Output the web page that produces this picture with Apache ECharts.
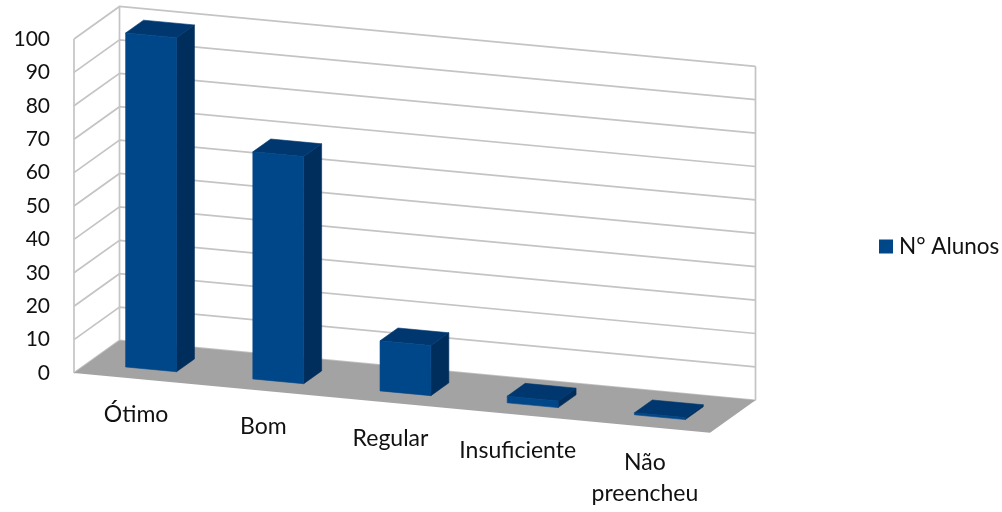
<!DOCTYPE html>
<html>
<head>
<meta charset="utf-8">
<style>
html, body { margin: 0; padding: 0; background: #fff; }
#chart { width: 1002px; height: 512px; }
</style>
<script src="https://cdn.jsdelivr.net/npm/echarts@6/dist/echarts.min.js"></script>
</head>
<body>
<div id="chart"></div>
<script>
var categories = ['Ótimo', 'Bom', 'Regular', 'Insuficiente', 'Não\npreencheu'];
var alunos = [100, 68, 15, 2, 0.6];
var ticks = [0, 10, 20, 30, 40, 50, 60, 70, 80, 90, 100];
var seriesName = 'N° Alunos';

// fake 3d: the grid is the front plane, depth goes from 0 (front) to 1 (back wall)
var gridLeft = 74;
var slope = 0.094;
var depthX = 45.5;
var depthY = 32.5;
var barFront = 0.296;
var barBack = 0.69;
var barWidth = 0.4;
var font = 'Lato';

function project(x, y, d) {
  return [x + d * depthX, y + (x - gridLeft) * slope - d * depthY];
}

function line(points, color) {
  return {
    type: 'polyline',
    shape: { points: points },
    style: { fill: null, stroke: color || '#c4c4c4', lineWidth: 1.7 }
  };
}

function face(points, color) {
  return {
    type: 'polygon',
    shape: { points: points },
    style: { fill: color, stroke: color, lineWidth: 0.6 }
  };
}

function renderWall(params, api) {
  var tick = api.value(0);
  var band = api.size([1, 0])[0];
  var left = api.coord([0, 0])[0] - band / 2;
  var right = api.coord([categories.length - 1, 0])[0] + band / 2;
  var y = api.coord([0, tick])[1];
  var children = [line([project(left, y, 0), project(left, y, 1), project(right, y, 1)])];
  if (tick === 0) {
    var top = api.coord([0, ticks[ticks.length - 1]])[1];
    children.push(line([project(left, y, 0), project(left, top, 0)]));
    children.push(line([project(left, y, 1), project(left, top, 1)]));
    children.push(line([project(right, y, 1), project(right, top, 1)]));
    children.push({
      type: 'polygon',
      z2: 5,
      shape: { points: [project(left, y, 0), project(left, y, 1), project(right, y, 1), project(right, y, 0)] },
      style: { fill: '#a3a3a3' }
    });
  }
  return { type: 'group', children: children };
}

function renderBar(params, api) {
  var cat = api.value(0);
  var c0 = api.coord([cat, 0]);
  var c1 = api.coord([cat, api.value(1)]);
  var w = api.size([1, 0])[0] * barWidth;
  var l = c0[0] - w / 2;
  var r = c0[0] + w / 2;
  var fl0 = project(l, c0[1], barFront), fr0 = project(r, c0[1], barFront);
  var fl1 = project(l, c1[1], barFront), fr1 = project(r, c1[1], barFront);
  var br0 = project(r, c0[1], barBack), br1 = project(r, c1[1], barBack);
  var bl1 = project(l, c1[1], barBack);
  return {
    type: 'group',
    children: [
      face([fr0, br0, br1, fr1], '#002e5c'),
      face([fl1, fr1, br1, bl1], '#00376f'),
      face([fl0, fr0, fr1, fl1], '#00478a')
    ]
  };
}

function renderLabel(params, api) {
  var c = api.coord([api.value(0), 0]);
  var p = project(c[0], c[1], 0);
  return {
    type: 'text',
    style: {
      text: categories[api.value(0)],
      x: p[0] - 1.5,
      y: p[1] + 20,
      align: 'center',
      verticalAlign: 'top',
      font: '23px ' + font,
      lineHeight: 31,
      fill: '#111'
    }
  };
}

var myChart = echarts.init(document.getElementById('chart'));
myChart.setOption({
  animation: false,
  backgroundColor: '#fff',
  grid: { left: gridLeft, right: 292, top: 39, bottom: 139 },
  legend: {
    data: [seriesName],
    left: 874,
    top: 230,
    icon: 'rect',
    itemWidth: 14,
    itemHeight: 14,
    itemGap: 0,
    textStyle: { fontFamily: font, fontSize: 22.5, color: '#111', padding: [0, 0, 0, 1] }
  },
  xAxis: {
    type: 'category',
    data: categories,
    axisLine: { show: false },
    axisTick: { show: false },
    axisLabel: { show: false },
    splitLine: { show: false }
  },
  yAxis: {
    type: 'value',
    min: 0,
    max: 100,
    interval: 10,
    axisLine: { show: false },
    axisTick: { show: false },
    splitLine: { show: false },
    axisLabel: { margin: 24, fontFamily: font, fontSize: 21, color: '#111', padding: [3, 0, 0, 0] }
  },
  series: [{
    type: 'custom',
    name: 'wall',
    silent: true,
    renderItem: renderWall,
    data: ticks.map(function (t) { return [t]; }),
    encode: { y: 0 },
    z: 1
  }, {
    type: 'custom',
    name: seriesName,
    renderItem: renderBar,
    itemStyle: { color: '#00478a' },
    data: alunos.map(function (v, i) { return [i, v]; }),
    encode: { x: 0, y: 1 },
    z: 2
  }, {
    type: 'custom',
    name: 'labels',
    silent: true,
    renderItem: renderLabel,
    data: categories.map(function (c, i) { return [i]; }),
    encode: { x: 0 },
    z: 3
  }]
});
</script>
</body>
</html>
